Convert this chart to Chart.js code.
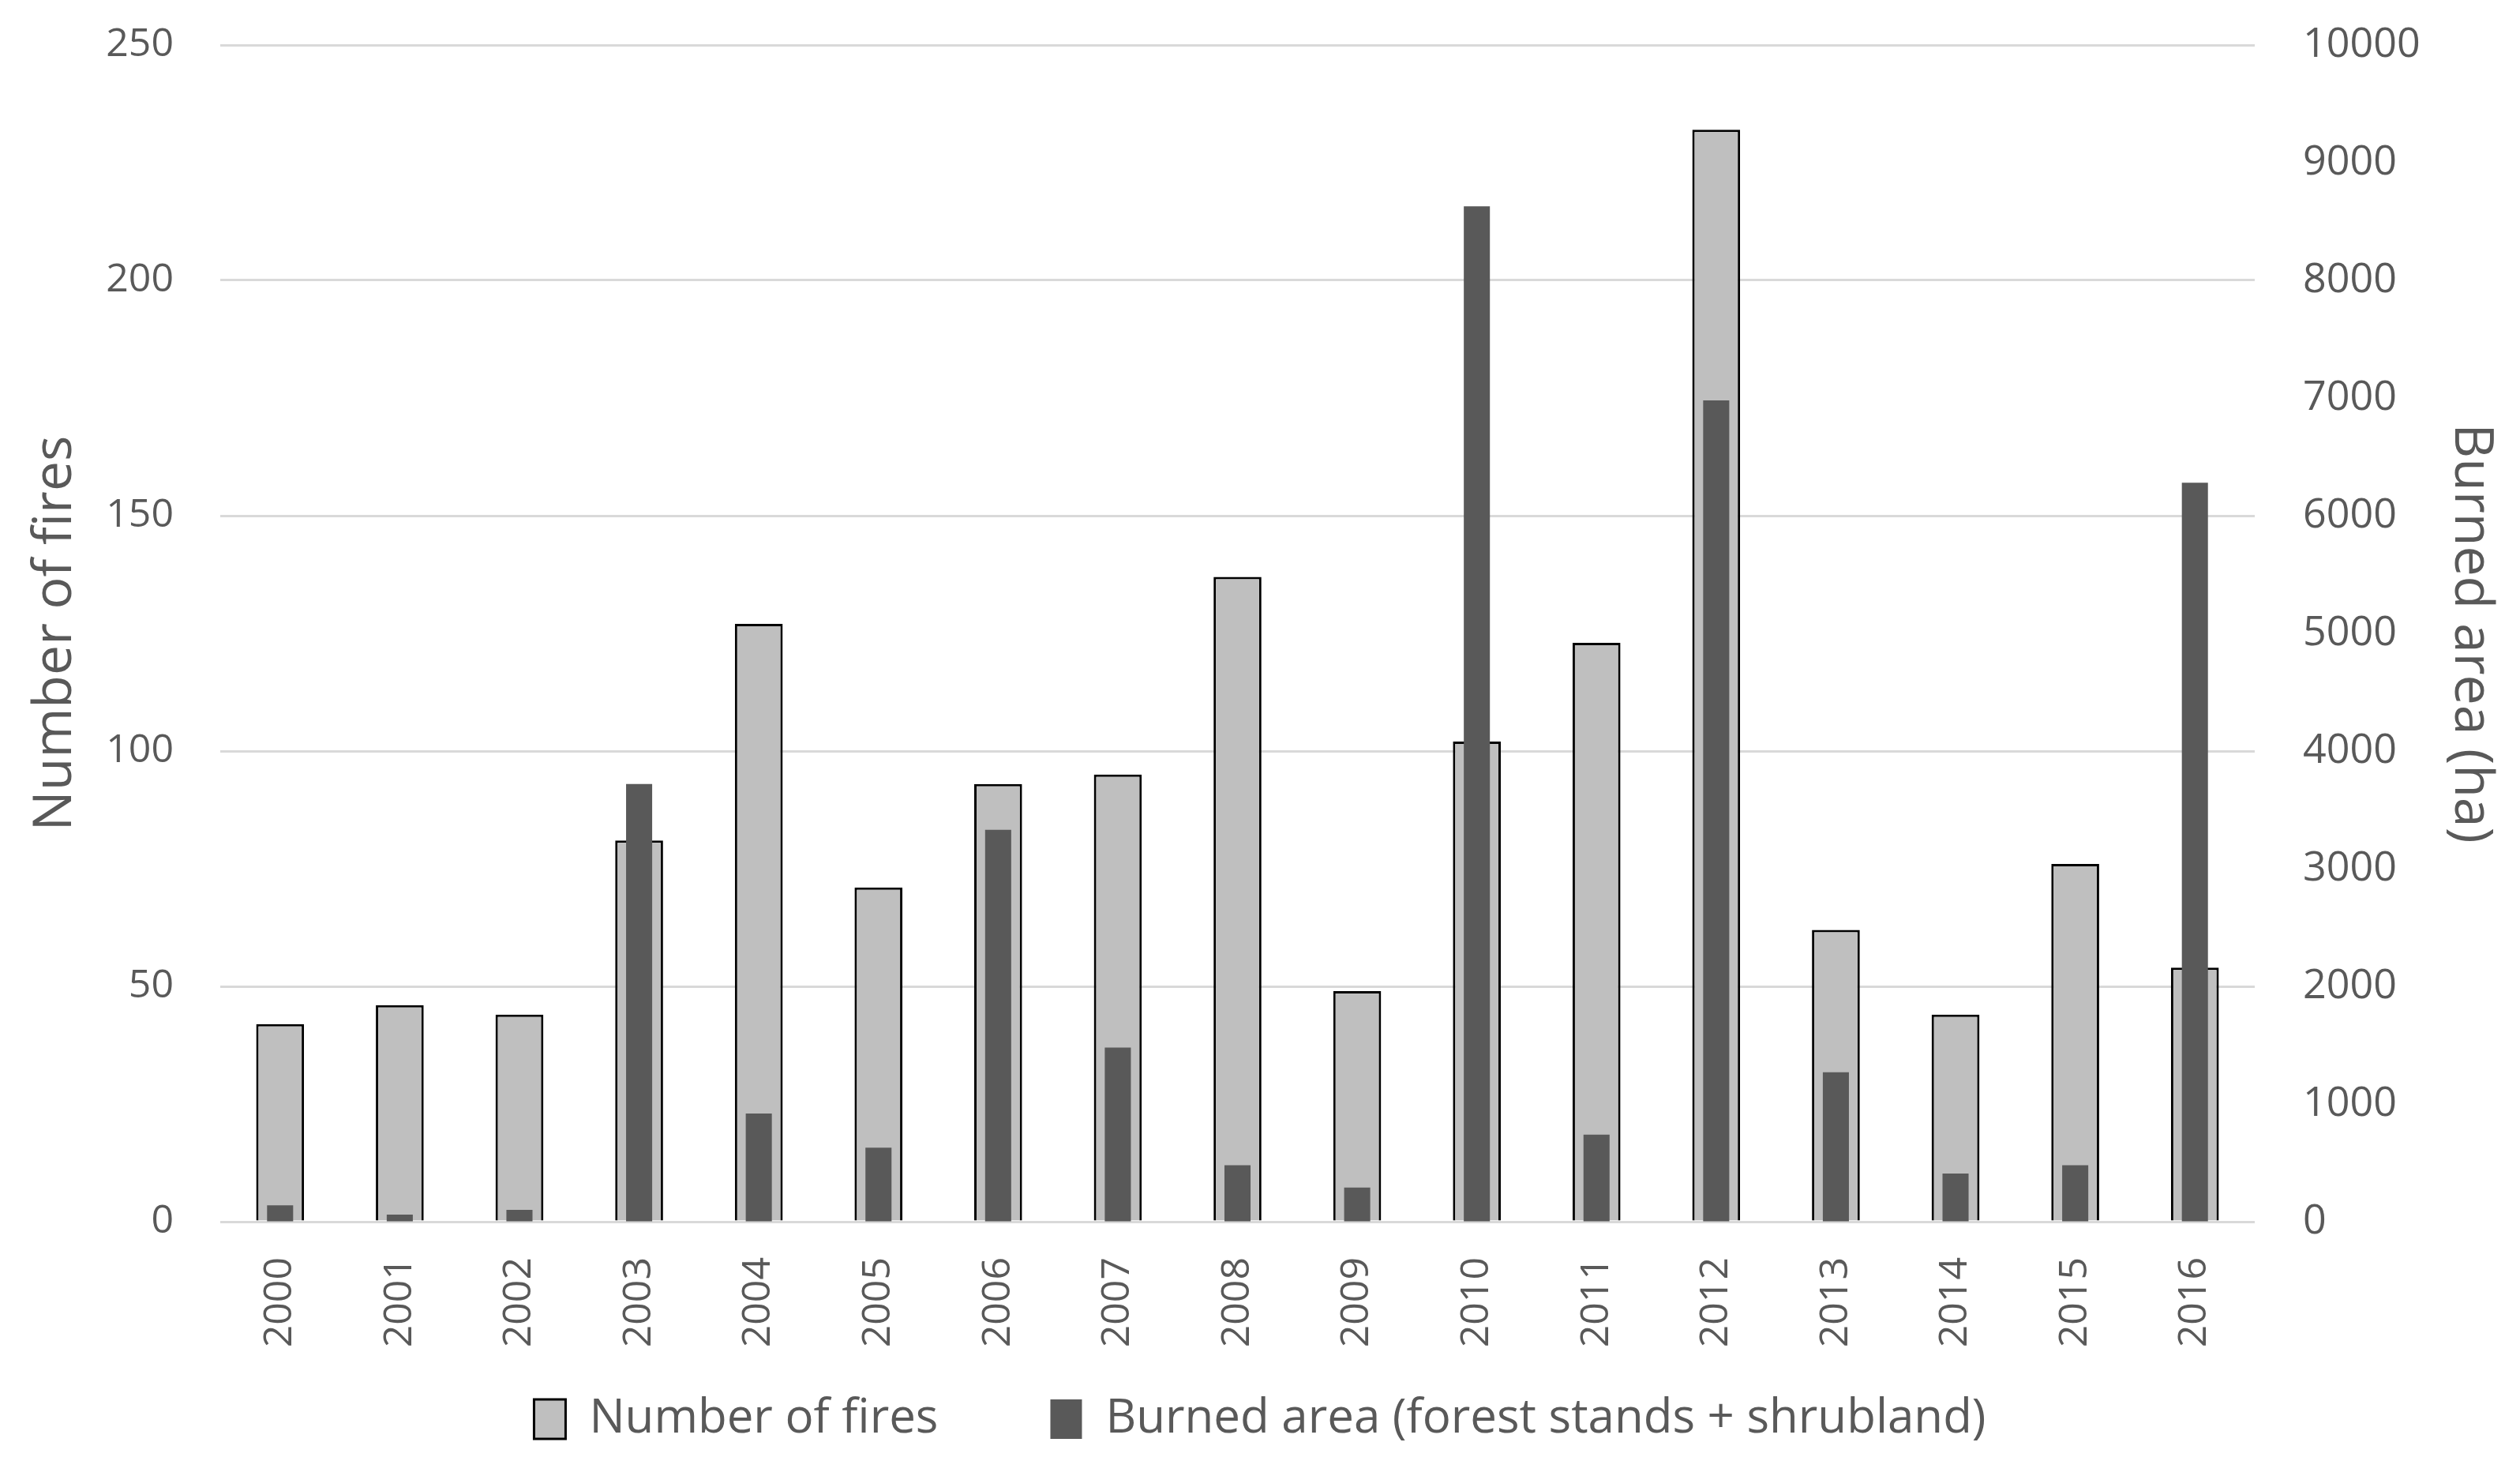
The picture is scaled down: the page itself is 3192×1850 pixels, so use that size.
<!DOCTYPE html>
<html lang="en">
<head>
  <meta charset="UTF-8" />
  <title>Fires and burned area</title>
  <script src="https://cdn.jsdelivr.net/npm/chart.js"></script>
  <style>
    body { margin: 0; background: #fff; }
    .chart-box { width: 3192px; height: 1850px; }
  </style>
</head>
<body>
  <div class="chart-box"><canvas id="fireChart"></canvas></div>

  <script>
    // data
    const years = ['2000', '2001', '2002', '2003', '2004', '2005', '2006', '2007', '2008',
                   '2009', '2010', '2011', '2012', '2013', '2014', '2015', '2016'];
    const numberOfFires = [42, 46, 44, 81, 127, 71, 93, 95, 137, 49, 102, 123, 232, 62, 44, 76, 54];
    const burnedArea = [140, 60, 100, 3720, 920, 630, 3330, 1480, 480, 290, 8630, 740, 6980, 1270, 410, 480, 6280];
    const firesTicks = [0, 50, 100, 150, 200, 250];
    const areaTicks = [0, 1000, 2000, 3000, 4000, 5000, 6000, 7000, 8000, 9000, 10000];

    const textColor = '#595959';
    const fontFamily = '"Open Sans", sans-serif';

    new Chart(document.getElementById('fireChart'), {
      type: 'bar',
      data: {
        labels: years,
        datasets: [{
          label: 'Number of fires',
          data: numberOfFires,
          yAxisID: 'yFires',
          backgroundColor: '#bfbfbf',
          borderColor: '#000000',
          borderWidth: 3,
          grouped: false,
          barPercentage: 0.4,
          categoryPercentage: 1,
          order: 2
        }, {
          label: 'Burned area (forest stands + shrubland)',
          data: burnedArea,
          yAxisID: 'yArea',
          backgroundColor: '#595959',
          borderWidth: 0,
          grouped: false,
          barPercentage: 0.218,
          categoryPercentage: 1,
          order: 1
        }]
      },
      options: {
        responsive: true,
        maintainAspectRatio: false,
        animation: false,
        layout: { padding: { top: 57, bottom: 13, left: 0, right: 0 } },
        plugins: {
          tooltip: { enabled: false },
          legend: {
            position: 'bottom',
            labels: {
              color: textColor,
              font: { family: fontFamily, size: 60 },
              boxWidth: 40,
              boxHeight: 50,
              padding: 142,
              sort: (a, b) => a.datasetIndex - b.datasetIndex
            }
          }
        },
        scales: {
          x: {
            grid: { display: false },
            border: { display: false },
            ticks: {
              color: textColor,
              font: { family: fontFamily, size: 50 },
              minRotation: 90,
              maxRotation: 90,
              autoSkip: false,
              padding: 37
            },
            afterFit: function(scale) {
              // keep the plot bottom where it is, let the year labels run into the legend gap
              scale.height = 78;
              scale._computeLabelArea = function() { return undefined; };
            }
          },
          yFires: {
            position: 'left',
            min: 0,
            max: 250,
            afterBuildTicks: function(scale) {
              scale.ticks = firesTicks.map(v => ({ value: v }));
            },
            // invisible tick marks give the gap between labels and plot
            grid: { color: '#d9d9d9', lineWidth: 3, drawTicks: true, tickLength: 59, tickColor: 'rgba(0,0,0,0)' },
            border: { display: false },
            ticks: {
              color: textColor,
              font: { family: fontFamily, size: 50 },
              padding: 0
            },
            title: {
              display: true,
              text: 'Number of fires',
              color: textColor,
              font: { family: fontFamily, size: 68 },
              padding: { top: 30, bottom: 0 }
            },
            afterFit: function(scale) { scale.width = 279; }
          },
          yArea: {
            position: 'right',
            min: 0,
            max: 10000,
            afterBuildTicks: function(scale) {
              scale.ticks = areaTicks.map(v => ({ value: v }));
            },
            grid: { drawOnChartArea: false, drawTicks: true, tickLength: 61, tickColor: 'rgba(0,0,0,0)' },
            border: { display: false },
            ticks: {
              color: textColor,
              font: { family: fontFamily, size: 52 },
              padding: 0,
              callback: function(value) { return String(value); }
            },
            title: {
              display: true,
              text: 'Burned area (ha)',
              color: textColor,
              font: { family: fontFamily, size: 68 },
              padding: { top: 22, bottom: 0 }
            },
            afterFit: function(scale) { scale.width = 336; }
          }
        }
      }
    });
  </script>
</body>
</html>
